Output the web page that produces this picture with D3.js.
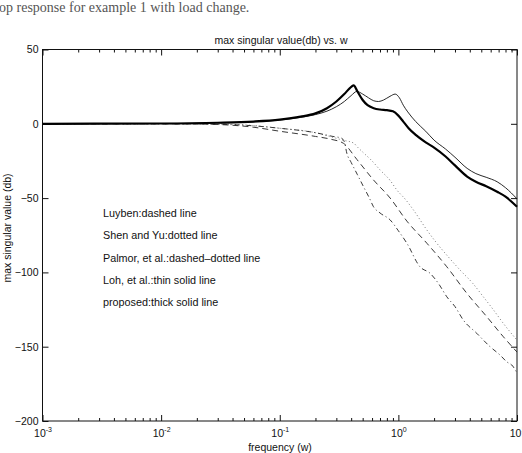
<!DOCTYPE html>
<html>
<head>
<meta charset="utf-8">
<script src="https://cdn.jsdelivr.net/npm/d3@7"></script>
<style>
  body { margin: 0; background: #fff; }
  svg { display: block; }
  text { font-family: "Liberation Sans", Arial, sans-serif; fill: #111; }
</style>
</head>
<body>
<div id="chart"></div>
<script>
// frequency grid (rad/s) and magnitude (dB)
var luybenW  = [0.001, 0.01, 0.025, 0.04, 0.056, 0.1, 0.2, 0.27, 0.344, 0.447, 0.617, 0.853, 1.18, 1.74, 2.56, 3.78, 5.56, 7.67, 10];
var luybenDb = [0, 0, -0.3, -1, -2, -5, -8.5, -10.4, -13.1, -24, -37.8, -50, -65.5, -80.4, -96.2, -114.1, -129.8, -143.3, -153.6];

var shenW  = [0.001, 0.01, 0.025, 0.056, 0.1, 0.2, 0.27, 0.34, 0.42, 0.45, 0.5, 0.6, 0.7, 0.85, 0.97, 1.15, 1.34, 1.74, 2.11, 2.6, 3.31, 4.2, 5.2, 6.3, 7.67, 10];
var shenDb = [0, 0, 0, -1, -3, -6, -8.7, -11, -13, -15.5, -19, -25, -31, -38, -44.5, -51, -58, -71.5, -80.4, -89, -98.4, -107, -116.4, -125, -134.3, -145.6];

var palmorW  = [0.001, 0.01, 0.025, 0.056, 0.1, 0.2, 0.28, 0.33, 0.35, 0.368, 0.4, 0.45, 0.508, 0.57, 0.617, 0.7, 0.853, 1.0, 1.18, 1.52, 1.85, 2.2, 2.56, 3.0, 3.53, 4.58, 5.93, 7.19, 8.18, 9.2, 10];
var palmorDb = [0, 0, -0.2, -1.2, -3, -6, -8.5, -9.6, -12, -19.9, -26, -34, -42.3, -50, -55.8, -60, -64.7, -72, -80.4, -96.2, -100.6, -108, -116.4, -123, -132.1, -141, -150, -155.6, -160.1, -163, -167.7];

var lohW  = [0.001, 0.01, 0.03, 0.06, 0.1, 0.15, 0.2, 0.25, 0.3, 0.35, 0.4, 0.447, 0.5, 0.56, 0.62, 0.68, 0.75, 0.85, 0.94, 1.02, 1.1, 1.2, 1.4, 1.7, 2.0, 2.5, 3.0, 3.8, 4.5, 5.5, 6.8, 8.0, 10];
var lohDb = [0, 0.2, 0.6, 1.3, 2.5, 4.3, 6.2, 8.5, 11.5, 15, 19, 21.8, 20, 17.5, 15.5, 15, 16, 18.5, 20, 17.5, 12.5, 8, 1.5, -5, -11, -17, -22.5, -30, -33.5, -36, -39, -43, -50.5];

var proposedW  = [0.001, 0.01, 0.03, 0.06, 0.1, 0.15, 0.2, 0.25, 0.3, 0.35, 0.39, 0.42, 0.45, 0.5, 0.55, 0.62, 0.7, 0.8, 0.9, 1.0, 1.1, 1.22, 1.4, 1.7, 2.0, 2.5, 3.0, 3.8, 4.5, 5.5, 6.8, 8.0, 10];
var proposedDb = [0, 0.2, 0.7, 1.5, 2.8, 4.8, 7, 10.5, 15, 20, 24, 25.8, 22, 16, 12.5, 10.5, 9.6, 9.2, 8.4, 5.5, 1.5, -3, -7.5, -12.5, -16, -22, -28, -35.5, -39, -42, -45.7, -49, -55.8];

var xMajor = [0.001, 0.01, 0.1, 1, 10];
var xExp = ['-3', '-2', '-1', '0', '1'];
var yTicks = [-200, -150, -100, -50, 0, 50];
var legendLabels = ['Luyben:dashed line', 'Shen and Yu:dotted line', 'Palmor, et al.:dashed\u2013dotted line',
                    'Loh, et al.:thin solid line', 'proposed:thick solid line'];

var width = 522, height = 453;
var margin = {top: 49.5, right: 5, bottom: 32, left: 42.5};

var svg = d3.select('#chart').append('svg')
  .attr('width', width)
  .attr('height', height);

var x = d3.scaleLog().domain([0.001, 10]).range([margin.left, width - margin.right]);
var y = d3.scaleLinear().domain([-200, 50]).range([height - margin.bottom, margin.top]);

// caption left over from the page above the figure
svg.append('text')
  .attr('x', -1).attr('y', 12)
  .style('font-family', '"Liberation Serif", "DejaVu Serif", serif')
  .style('font-size', '14px')
  .style('fill', '#555')
  .text('op response for example 1 with load change.');

// minor ticks 2..9 for each decade
var xMinor = [];
xMajor.slice(0, -1).forEach(function(d) {
  for (var k = 2; k <= 9; k++) xMinor.push(d * k);
});

var y0 = y(-200), y1 = y(50);

// bottom axis
var gx = svg.append('g')
  .attr('transform', 'translate(0,' + y0 + ')')
  .call(d3.axisBottom(x).tickValues(xMajor).tickSize(-6).tickPadding(9).tickFormat(''));
gx.select('.domain').remove();
gx.selectAll('.tick text').each(function(d, i) {
  var t = d3.select(this).attr('font-size', 10.5).attr('font-family', null).attr('fill', '#111');
  t.append('tspan').text('10');
  t.append('tspan').attr('dy', -5).attr('font-size', 7).text(xExp[i]);
});
svg.append('g')
  .attr('transform', 'translate(0,' + y0 + ')')
  .call(d3.axisBottom(x).tickValues(xMinor).tickSize(-3).tickFormat(''))
  .select('.domain').remove();

// top axis ticks
svg.append('g')
  .attr('transform', 'translate(0,' + y1 + ')')
  .call(d3.axisTop(x).tickValues(xMajor).tickSize(-6).tickFormat(''))
  .select('.domain').remove();
svg.append('g')
  .attr('transform', 'translate(0,' + y1 + ')')
  .call(d3.axisTop(x).tickValues(xMinor).tickSize(-3).tickFormat(''))
  .select('.domain').remove();

// left axis
var gy = svg.append('g')
  .attr('transform', 'translate(' + margin.left + ',0)')
  .call(d3.axisLeft(y).tickValues(yTicks).tickSize(-6).tickPadding(4)
    .tickFormat(function(d) { return d < 0 ? '\u2212' + (-d) : d; }));
gy.select('.domain').remove();
gy.selectAll('.tick text').attr('font-size', 10.5).attr('font-family', null).attr('fill', '#111');

// right axis ticks
svg.append('g')
  .attr('transform', 'translate(' + (width - margin.right) + ',0)')
  .call(d3.axisRight(y).tickValues(yTicks).tickSize(-6).tickFormat(''))
  .select('.domain').remove();

svg.selectAll('.tick line').attr('stroke', '#111');

// frame
svg.append('rect')
  .attr('x', margin.left).attr('y', y1)
  .attr('width', x(10) - margin.left).attr('height', y0 - y1)
  .attr('fill', 'none').attr('stroke', '#111').attr('stroke-width', 1);

// curves
var line = d3.line()
  .x(function(d) { return x(d[0]); })
  .y(function(d) { return y(d[1]); })
  .curve(d3.curveMonotoneX);

function series(w, db) { return w.map(function(d, i) { return [d, db[i]]; }); }

var curves = [
  {data: series(luybenW, luybenDb), width: 0.9, dash: '6,4', color: '#222'},
  {data: series(shenW, shenDb), width: 0.8, dash: '1,2.5', color: '#555'},
  {data: series(palmorW, palmorDb), width: 0.9, dash: '5,3,1,3', color: '#222'},
  {data: series(lohW, lohDb), width: 0.9, dash: null, color: '#111'},
  {data: series(proposedW, proposedDb), width: 2.2, dash: null, color: '#000'}
];

svg.append('g').selectAll('path')
  .data(curves)
  .enter().append('path')
  .attr('d', function(d) { return line(d.data); })
  .attr('fill', 'none')
  .attr('stroke', function(d) { return d.color; })
  .attr('stroke-width', function(d) { return d.width; })
  .attr('stroke-dasharray', function(d) { return d.dash; });

// legend text
svg.append('g').selectAll('text')
  .data(legendLabels)
  .enter().append('text')
  .attr('x', 103)
  .attr('y', function(d, i) { return 217 + i * 22.3; })
  .style('font-size', '10.8px')
  .text(function(d) { return d; });

// title and axis labels
svg.append('text')
  .attr('x', 281).attr('y', 43.5)
  .attr('text-anchor', 'middle')
  .style('font-size', '10.5px')
  .text('max singular value(db) vs. w');

svg.append('text')
  .attr('x', 280).attr('y', 451)
  .attr('text-anchor', 'middle')
  .style('font-size', '10.5px')
  .text('frequency (w)');

svg.append('text')
  .attr('transform', 'translate(11,228) rotate(-90)')
  .attr('text-anchor', 'middle')
  .style('font-size', '10.5px')
  .text('max singular value (db)');
</script>
</body>
</html>
